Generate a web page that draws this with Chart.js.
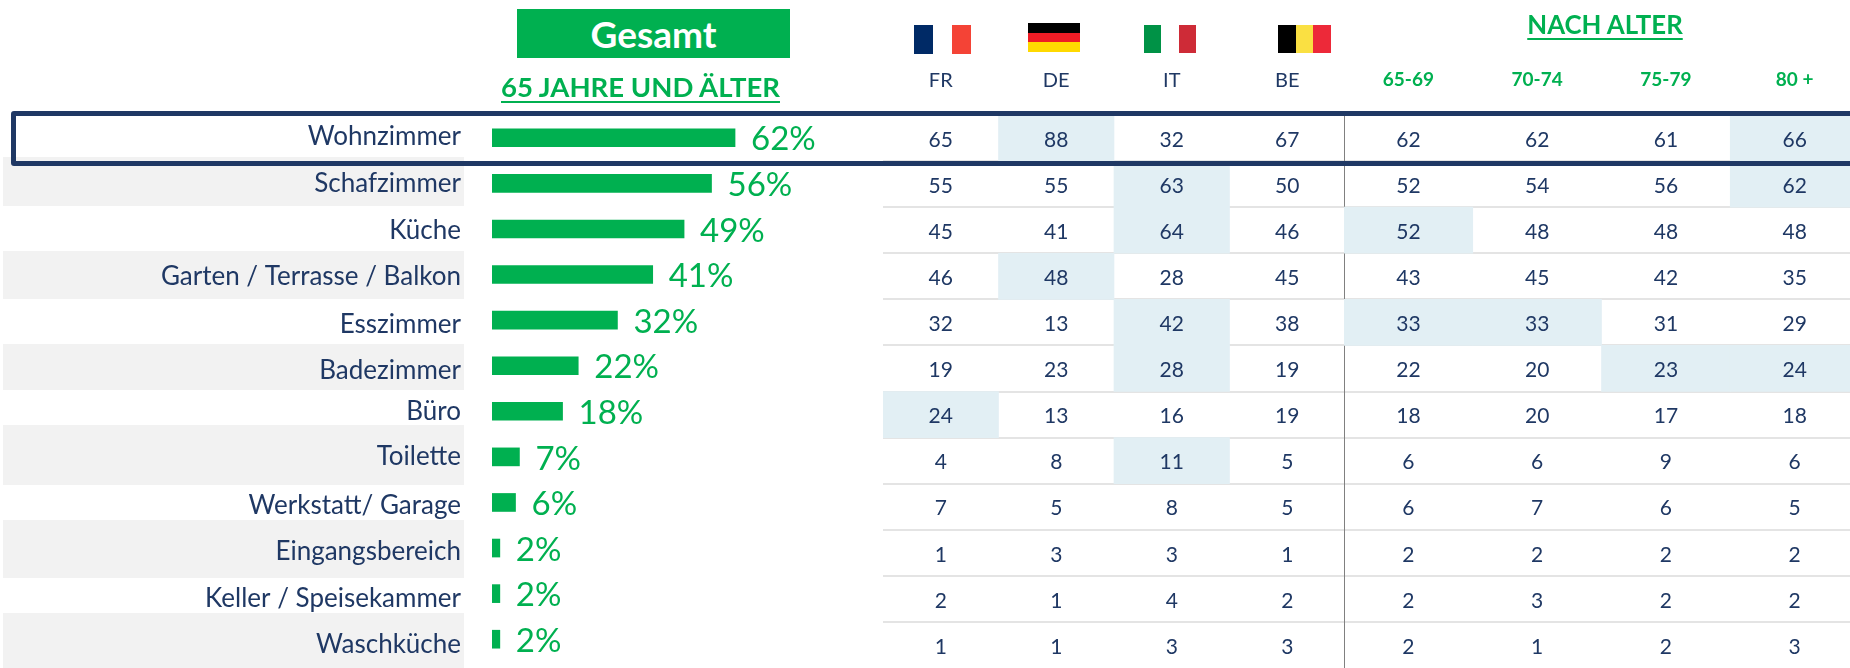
<!DOCTYPE html>
<html lang="de">
<head>
<meta charset="utf-8">
<title>Gesamt - 65 Jahre und älter</title>
<script src="https://cdn.jsdelivr.net/npm/chart.js@4/dist/chart.umd.min.js"></script>
<style>
  html, body { margin: 0; padding: 0; background: #fff; }
  body { position: relative; width: 1850px; height: 668px; overflow: hidden; font-family: Lato, sans-serif; }
  canvas { position: absolute; top: 0; }
  .stripe { position: absolute; left: 3px; width: 461px; background: #f2f2f2; }
  .head { position: absolute; font-weight: 700; color: #00b050; white-space: nowrap; text-align: center; }
  .link { text-decoration: underline; text-decoration-thickness: 2px; text-underline-offset: 4px; }
  #gesamt { left: 517px; top: 9px; width: 273px; height: 49px; line-height: 49px; background: #00b050; color: #fff; font-size: 37px; }
  #sub { left: 490px; top: 69px; width: 301px; font-size: 27.5px; line-height: 36px; }
  #nach { left: 1505px; top: 8px; width: 200px; font-size: 25.8px; line-height: 32px; }
  .flag { position: absolute; }
  #fr { left: 914px; top: 25px; width: 57px; height: 29px; background: linear-gradient(90deg, #002a66 33.3%, #fff 33.3%, #fff 66.6%, #f44336 66.6%); }
  #de { left: 1028px; top: 23px; width: 52px; height: 29px; background: linear-gradient(180deg, #000 33.3%, #ee1c25 33.3%, #ee1c25 66.6%, #ffd900 66.6%); }
  #it { left: 1144px; top: 25px; width: 52px; height: 28px; background: linear-gradient(90deg, #009246 33.3%, #fff 33.3%, #fff 66.6%, #ce2b37 66.6%); }
  #be { left: 1278px; top: 25px; width: 53px; height: 28px; background: linear-gradient(90deg, #000 33.3%, #fae042 33.3%, #fae042 66.6%, #ed2939 66.6%); }
  #rowbox { position: absolute; left: 11px; top: 111px; width: 1900px; height: 45px; border: 5px solid #1f3864; border-radius: 3px; }
</style>
</head>
<body>
<div class="stripe" style="top:157px;height:49px"></div>
<div class="stripe" style="top:251px;height:48px"></div>
<div class="stripe" style="top:344px;height:46px"></div>
<div class="stripe" style="top:425px;height:60px"></div>
<div class="stripe" style="top:520px;height:58px"></div>
<div class="stripe" style="top:613px;height:55px"></div>

<canvas id="barChart" width="1850" height="668" style="left:0"></canvas>
<canvas id="countryChart" width="462" height="668" style="left:883px"></canvas>
<canvas id="ageChart" width="515" height="668" style="left:1344px"></canvas>

<div class="head" id="gesamt">Gesamt</div>
<div class="head" id="sub"><span class="link">65 JAHRE UND ÄLTER</span></div>
<div class="head" id="nach"><span class="link">NACH ALTER</span></div>
<div class="flag" id="fr"></div>
<div class="flag" id="de"></div>
<div class="flag" id="it"></div>
<div class="flag" id="be"></div>
<div id="rowbox"></div>

<script>
const rooms = ["Wohnzimmer", "Schafzimmer", "Küche", "Garten / Terrasse / Balkon", "Esszimmer", "Badezimmer",
               "Büro", "Toilette", "Werkstatt/ Garage", "Eingangsbereich", "Keller / Speisekammer", "Waschküche"];
const totals = [62, 56, 49, 41, 32, 22, 18, 7, 6, 2, 2, 2];

const countries = ["FR", "DE", "IT", "BE"];
const frValues = [65, 55, 45, 46, 32, 19, 24, 4, 7, 1, 2, 1];
const deValues = [88, 55, 41, 48, 13, 23, 13, 8, 5, 3, 1, 1];
const itValues = [32, 63, 64, 28, 42, 28, 16, 11, 8, 3, 4, 3];
const beValues = [67, 50, 46, 45, 38, 19, 19, 5, 5, 1, 2, 3];

const ages = ["65-69", "70-74", "75-79", "80 +"];
const age65Values = [62, 52, 52, 43, 33, 22, 18, 6, 6, 2, 2, 2];
const age70Values = [62, 54, 48, 45, 33, 20, 20, 6, 7, 2, 3, 1];
const age75Values = [61, 56, 48, 42, 31, 23, 17, 9, 6, 2, 2, 2];
const age80Values = [66, 62, 48, 35, 29, 24, 18, 6, 5, 2, 2, 3];

// [row, column] of the shaded cells
const countryHighlights = [[0, "DE"], [1, "IT"], [2, "IT"], [3, "DE"], [4, "IT"], [5, "IT"], [6, "FR"], [7, "IT"]];
const ageHighlights = [[0, "80 +"], [1, "80 +"], [2, "65-69"], [4, "65-69"], [4, "70-74"], [5, "75-79"], [5, "80 +"]];

const NAVY = "#1f3864";
const GREEN = "#00b050";
const FONT = "Lato, sans-serif";

// labels do not sit quite on the bar centre in the original
const labelShift = [-1, 0, 2, 2, 4, 5, 0, 0, 3, 4, 5, 5];

const barLabels = {
  id: "barLabels",
  afterDatasetsDraw(chart) {
    const ctx = chart.ctx;
    const yScale = chart.scales.y;
    const meta = chart.getDatasetMeta(0);
    ctx.save();
    ctx.textBaseline = "middle";

    ctx.font = "26px " + FONT;
    ctx.fillStyle = NAVY;
    ctx.textAlign = "right";
    rooms.forEach((room, i) => {
      ctx.fillText(room, 461, yScale.getPixelForValue(i) + labelShift[i]);
    });

    ctx.font = "33px " + FONT;
    ctx.fillStyle = GREEN;
    ctx.textAlign = "left";
    totals.forEach((value, i) => {
      ctx.fillText(value + "%", meta.data[i].x + 16, meta.data[i].y + 2);
    });
    ctx.restore();
  }
};

new Chart(document.getElementById("barChart"), {
  type: "bar",
  data: {
    labels: rooms,
    datasets: [{ data: totals, backgroundColor: GREEN, barThickness: 18 }]
  },
  options: {
    indexAxis: "y",
    responsive: false,
    animation: false,
    layout: { padding: { left: 492, right: 966, top: 115, bottom: 6 } },
    plugins: { legend: { display: false }, tooltip: { enabled: false } },
    scales: {
      x: { display: false, min: 0, max: 100 },
      y: { display: false }
    }
  },
  plugins: [barLabels]
});

// One block of the table: columns on a category axis, rows on a reversed linear axis
function makeTable(canvasId, columns, columnValues, highlights, headFont, headColor, headPadding, showDivider) {
  const cellText = {
    id: "cellText",
    afterDatasetsDraw(chart) {
      const ctx = chart.ctx;
      ctx.save();
      ctx.font = "21px " + FONT;
      ctx.fillStyle = NAVY;
      ctx.textAlign = "center";
      ctx.textBaseline = "middle";
      columns.forEach((col, c) => {
        columnValues[c].forEach((value, row) => {
          ctx.fillText(value, chart.scales.x.getPixelForValue(c), chart.scales.y.getPixelForValue(row) + 2);
        });
      });
      ctx.restore();
    }
  };

  return new Chart(document.getElementById(canvasId), {
    type: "bar",
    data: {
      labels: columns,
      datasets: [{
        data: highlights.map(h => ({ x: h[1], y: [h[0] - 0.5, h[0] + 0.5] })),
        backgroundColor: "#e2eff4",
        barPercentage: 1,
        categoryPercentage: 1
      }]
    },
    options: {
      responsive: false,
      animation: false,
      plugins: { legend: { display: false }, tooltip: { enabled: false } },
      scales: {
        x: {
          position: "top",
          grid: { display: false },
          border: { display: false },
          ticks: { font: headFont, color: headColor, padding: headPadding, maxRotation: 0 },
          afterFit(scale) { scale.height = 115; }
        },
        y: {
          reverse: true,
          min: -0.5,
          max: rooms.length - 0.5,
          afterBuildTicks(scale) {
            scale.ticks = rooms.concat("").map((r, i) => ({ value: i - 0.5 }));
          },
          ticks: { display: false },
          grid: {
            drawTicks: false,
            lineWidth: 2,
            color: ctx => (ctx.index === 0 || ctx.index === rooms.length ? "transparent" : "#e4e4e4")
          },
          border: { display: showDivider, color: "#808080", width: 1 },
          afterFit(scale) { scale.width = 0; }
        }
      }
    },
    plugins: [cellText]
  });
}

makeTable("countryChart", countries, [frValues, deValues, itValues, beValues], countryHighlights,
  { family: "Lato", size: 20 }, NAVY, 14, false);
makeTable("ageChart", ages, [age65Values, age70Values, age75Values, age80Values], ageHighlights,
  { family: "Lato", size: 19, weight: "bold" }, GREEN, 16, true);
</script>
</body>
</html>
